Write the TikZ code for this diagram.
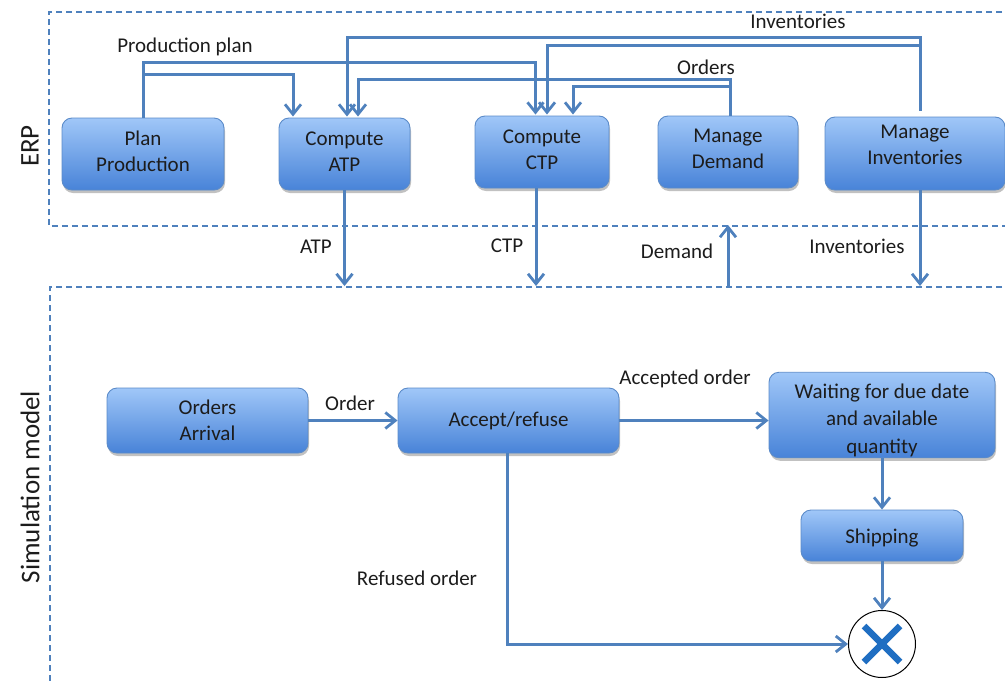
\documentclass[tikz,border=0pt]{standalone}
\usepackage{fontspec}
\setmainfont{Carlito}
\usetikzlibrary{arrows.meta,shadows,calc}

\definecolor{flowblue}{HTML}{4F81BD}
\definecolor{boxtop}{HTML}{A0C7F8}
\definecolor{boxbottom}{HTML}{4883D8}
\definecolor{boxedge}{HTML}{5B8BC9}
\definecolor{inkgray}{HTML}{1C1C1C}
\definecolor{crossblue}{HTML}{1F6EC2}

\tikzset{
  procbox/.style={
    draw=boxedge, line width=0.9pt, rounded corners=10pt,
    top color=boxtop, bottom color=boxbottom,
    drop shadow={shadow xshift=1pt, shadow yshift=-3pt, opacity=0.35, fill=black!70},
    text=inkgray, font=\fontsize{21}{26}\selectfont, align=center,
    inner sep=0pt, anchor=center},
  flow/.style={draw=flowblue, line width=3pt,
    -{Straight Barb[length=10pt,width=16pt,line width=2.8pt]}},
  tag/.style={text=inkgray, font=\fontsize{21}{26}\selectfont, inner sep=0pt, anchor=center},
  zone/.style={draw=flowblue, line width=1.2pt, dash pattern=on 6pt off 4pt},
  zonetitle/.style={text=inkgray, font=\fontsize{27}{32}\selectfont, rotate=90, inner sep=0pt, anchor=center}
}

\begin{document}
\begin{tikzpicture}[x=1pt,y=-1pt]
  \useasboundingbox (0,0) rectangle (1005,683);

  % dashed zones
  \draw[zone] (1012,12) -- (49,12) -- (49,226) -- (1012,226);
  \draw[zone] (1012,287) -- (50,287) -- (50,690);
  \node[zonetitle] (erptitle) at (30,146) {ERP};
  \node[zonetitle] (simtitle) at (30,487) {Simulation model};

  % routing levels
  \coordinate (lvlInvA) at (0,37);
  \coordinate (lvlInvC) at (0,45);
  \coordinate (lvlProdC) at (0,62);
  \coordinate (lvlProdA) at (0,74);
  \coordinate (lvlOrdA) at (0,79);
  \coordinate (lvlOrdC) at (0,86);
  \coordinate (erpfloor) at (0,226);
  \coordinate (simroof) at (0,286);

  % ERP processes
  \node[procbox, minimum width=162pt, minimum height=72pt, text depth=6pt] (plan) at (143,154) {Plan\\Production};
  \node[procbox, minimum width=131pt, minimum height=72pt, text depth=5pt] (atp) at (344.5,154) {Compute\\ATP};
  \node[procbox, minimum width=134pt, minimum height=72pt, text depth=4pt] (ctp) at (542,152) {Compute\\CTP};
  \node[procbox, minimum width=140pt, minimum height=72pt, text depth=6pt] (dem) at (728,152) {Manage\\Demand};
  \node[procbox, minimum width=180pt, minimum height=73pt, text depth=17pt] (inv) at (915,153.5) {Manage\\Inventories};

  % entry and exit points on the ERP boxes
  \coordinate (atpP) at ([xshift=-51.5pt,yshift=1pt]atp.north);
  \coordinate (atpI) at ([xshift=2.5pt,yshift=1pt]atp.north);
  \coordinate (atpO) at ([xshift=13.5pt,yshift=1pt]atp.north);
  \coordinate (ctpP) at ([xshift=-6.5pt,yshift=1pt]ctp.north);
  \coordinate (ctpI) at ([xshift=5pt,yshift=1pt]ctp.north);
  \coordinate (ctpO) at ([xshift=31pt,yshift=1pt]ctp.north);
  \coordinate (invT) at ([xshift=5pt,yshift=6pt]inv.north);
  \coordinate (demT) at ([xshift=2pt]dem.north);
  \coordinate (ctpB) at ([xshift=-6pt]ctp.south);
  \coordinate (invB) at ([xshift=5pt]inv.south);

  % ERP information flows
  \draw[flow] (plan.north) |- (lvlProdA -| atpP) -- (atpP);
  \draw[flow] (plan.north) |- (lvlProdC -| ctpP) -- (ctpP);
  \draw[flow] (invT) |- (lvlInvA -| atpI) -- (atpI);
  \draw[flow] (invT) |- (lvlInvC -| ctpI) -- (ctpI);
  \draw[flow] (demT) |- (lvlOrdA -| atpO) -- (atpO);
  \draw[flow] (demT) |- (lvlOrdC -| ctpO) -- (ctpO);

  \node[tag] (lblprod) at (185,47) {Production plan};
  \node[tag] (lblinvtop) at (798,21) {Inventories};
  \node[tag] (lblorders) at (706,67) {Orders};

  % flows between ERP and simulation
  \draw[flow] (atp.south) -- (atp.south |- simroof);
  \draw[flow] (ctpB) -- (ctpB |- simroof);
  \draw[flow] (invB) -- (invB |- simroof);
  \draw[flow] ([yshift=-1pt]dem.south |- simroof) -- ([yshift=1pt]dem.south |- erpfloor);

  \node[tag] (lblatp) at (316,247) {ATP};
  \node[tag] (lblctp) at (507,246) {CTP};
  \node[tag] (lbldem) at (677,251) {Demand};
  \node[tag] (lblinv) at (857,246) {Inventories};

  % simulation model
  \node[procbox, minimum width=201pt, minimum height=65pt] (arrival) at (207.5,420.5) {Orders\\Arrival};
  \node[procbox, minimum width=221pt, minimum height=65pt] (accept) at (508.5,420.5) {Accept/refuse};
  \node[procbox, minimum width=226pt, minimum height=82pt, font=\fontsize{21}{27.5}\selectfont, text height=81pt, text depth=4.5pt] (waiting) at (882,415) {Waiting for due date\\and available\\quantity};
  \node[procbox, minimum width=162pt, minimum height=51pt, text height=21pt, text depth=4.5pt] (ship) at (882,535.5) {Shipping};
  \node[draw=black, line width=1pt, fill=white, circle, minimum size=67pt, inner sep=0pt] (finish) at (882,644) {};
  \draw[crossblue, line width=6.5pt] ([shift={(-18pt,18pt)}]finish.center) -- ([shift={(18pt,-18pt)}]finish.center);
  \draw[crossblue, line width=6.5pt] ([shift={(-18pt,-18pt)}]finish.center) -- ([shift={(18pt,18pt)}]finish.center);

  \draw[flow] (arrival.east) -- (accept.west);
  \draw[flow] (accept.east) -- (accept.east -| waiting.west);
  \draw[flow] (waiting.south) -- (ship.north);
  \draw[flow] (ship.south) -- (finish.north);
  \draw[flow] ([xshift=-1.5pt]accept.south) |- (finish.west);

  \node[tag] (lblorder) at (350,403) {Order};
  \node[tag] (lblacc) at (685,379) {Accepted order};
  \node[tag] (lblref) at (417,578) {Refused order};
\end{tikzpicture}
\end{document}
